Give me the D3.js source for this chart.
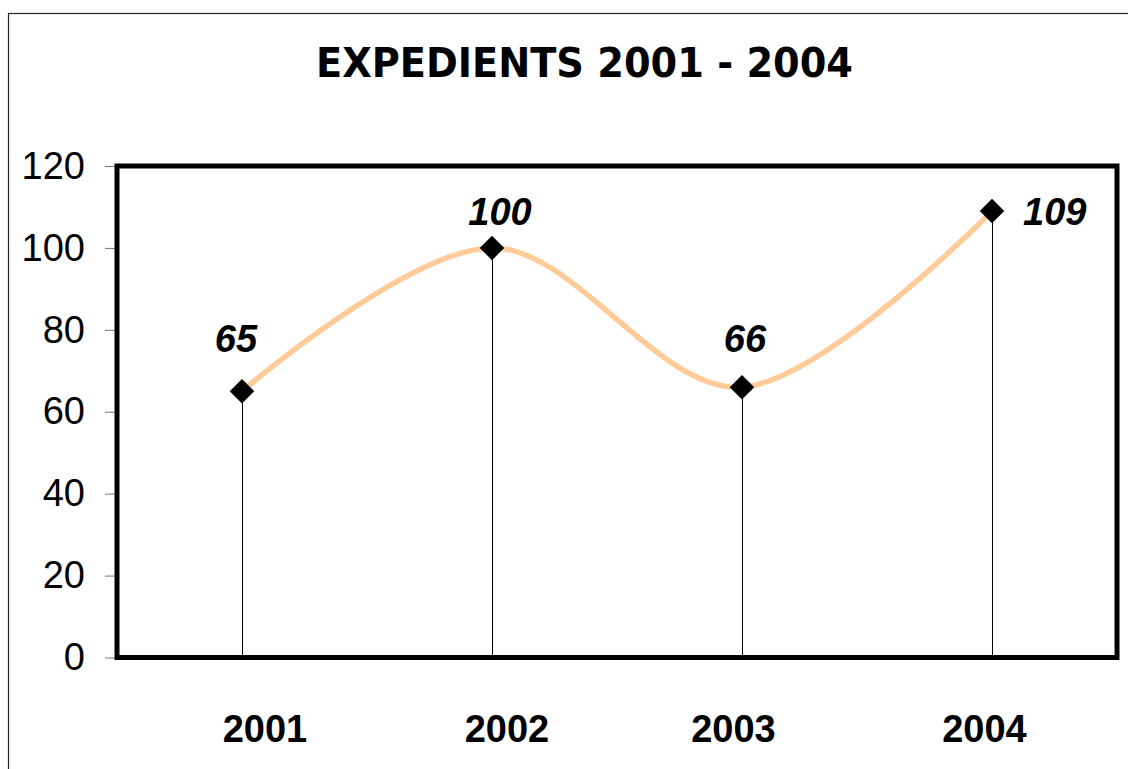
<!DOCTYPE html>
<html>
<head>
<meta charset="utf-8">
<script src="https://cdn.jsdelivr.net/npm/d3@7"></script>
<style>
html,body{margin:0;padding:0;background:#fff;}
svg{display:block;}
</style>
</head>
<body>
<svg id="chart" width="1128" height="769"></svg>
<script>
const title = "EXPEDIENTS 2001 - 2004";
const categories = ["2001", "2002", "2003", "2004"];
const values = [65, 100, 66, 109];
const yTicks = [0, 20, 40, 60, 80, 100, 120];

// layout-only tweaks (label placement relative to marks)
const xLabelShift = [23, 15, -8.5, -7.5];
const valueLabelPos = [
  {dx: -6, dy: -39, anchor: "middle"},
  {dx: 8, dy: -23, anchor: "middle"},
  {dx: 3, dy: -35, anchor: "middle"},
  {dx: 31, dy: 14, anchor: "start"}
];

const svg = d3.select("#chart");
const plot = {left: 117, top: 166, right: 1117, bottom: 657.5};

// outer chart border
svg.append("rect")
  .attr("x", 8.5).attr("y", 13.5)
  .attr("width", 1300).attr("height", 900)
  .attr("fill", "none").attr("stroke", "#222").attr("stroke-width", 1.2);

svg.append("text")
  .attr("x", 584.5).attr("y", 77)
  .attr("text-anchor", "middle")
  .attr("font-family", "DejaVu Sans")
  .attr("font-weight", "bold")
  .attr("font-size", 41)
  .attr("textLength", 537)
  .attr("lengthAdjust", "spacingAndGlyphs")
  .attr("fill", "#000")
  .text(title);

const x = d3.scaleBand().domain(categories).range([plot.left, plot.right]).padding(0);
const y = d3.scaleLinear().domain([0, 120]).range([plot.bottom, plot.top]);
const cx = d => x(d) + x.bandwidth() / 2;

// y axis
const yAxis = d3.axisLeft(y).tickValues(yTicks).tickSize(12).tickPadding(20);
const gy = svg.append("g").attr("transform", `translate(${plot.left},0)`).call(yAxis);
gy.select(".domain").remove();
gy.selectAll(".tick line").attr("stroke", "#777").attr("stroke-width", 1);
gy.selectAll(".tick text")
  .attr("font-family", "Liberation Sans, Arial, sans-serif")
  .attr("font-size", 38)
  .attr("fill", "#000");

// x axis labels
svg.append("g").selectAll("text").data(categories).join("text")
  .attr("x", (d, i) => cx(d) + xLabelShift[i])
  .attr("y", 742)
  .attr("text-anchor", "middle")
  .attr("font-family", "Liberation Sans, Arial, sans-serif")
  .attr("font-weight", "bold")
  .attr("font-size", 38)
  .attr("fill", "#000")
  .text(d => d);

const pts = categories.map((c, i) => ({c, v: values[i], i}));

// drop lines
svg.append("g").selectAll("line").data(pts).join("line")
  .attr("x1", d => Math.round(cx(d.c)) + 0.5).attr("x2", d => Math.round(cx(d.c)) + 0.5)
  .attr("y1", d => y(d.v)).attr("y2", plot.bottom)
  .attr("stroke", "#000").attr("stroke-width", 1);

// smooth line
const line = d3.line().x(d => cx(d.c)).y(d => y(d.v)).curve(d3.curveCardinal.tension(0));
svg.append("path").datum(pts)
  .attr("d", line)
  .attr("fill", "none")
  .attr("stroke", "#FFCC99")
  .attr("stroke-width", 5.5)
  .attr("stroke-linecap", "round");

// plot frame
svg.append("rect")
  .attr("x", plot.left).attr("y", plot.top)
  .attr("width", plot.right - plot.left).attr("height", plot.bottom - plot.top)
  .attr("fill", "none").attr("stroke", "#000").attr("stroke-width", 5);

// markers
const sym = d3.symbol().type(d3.symbolSquare).size(300);
svg.append("g").selectAll("path").data(pts).join("path")
  .attr("d", sym)
  .attr("transform", d => `translate(${cx(d.c)},${y(d.v)}) rotate(45)`)
  .attr("fill", "#000");

// value labels
svg.append("g").selectAll("text").data(pts).join("text")
  .attr("x", d => cx(d.c) + valueLabelPos[d.i].dx)
  .attr("y", d => y(d.v) + valueLabelPos[d.i].dy)
  .attr("text-anchor", d => valueLabelPos[d.i].anchor)
  .attr("font-family", "Liberation Sans, Arial, sans-serif")
  .attr("font-weight", "bold")
  .attr("font-style", "italic")
  .attr("font-size", 38)
  .attr("fill", "#000")
  .text(d => d.v);
</script>
</body>
</html>
